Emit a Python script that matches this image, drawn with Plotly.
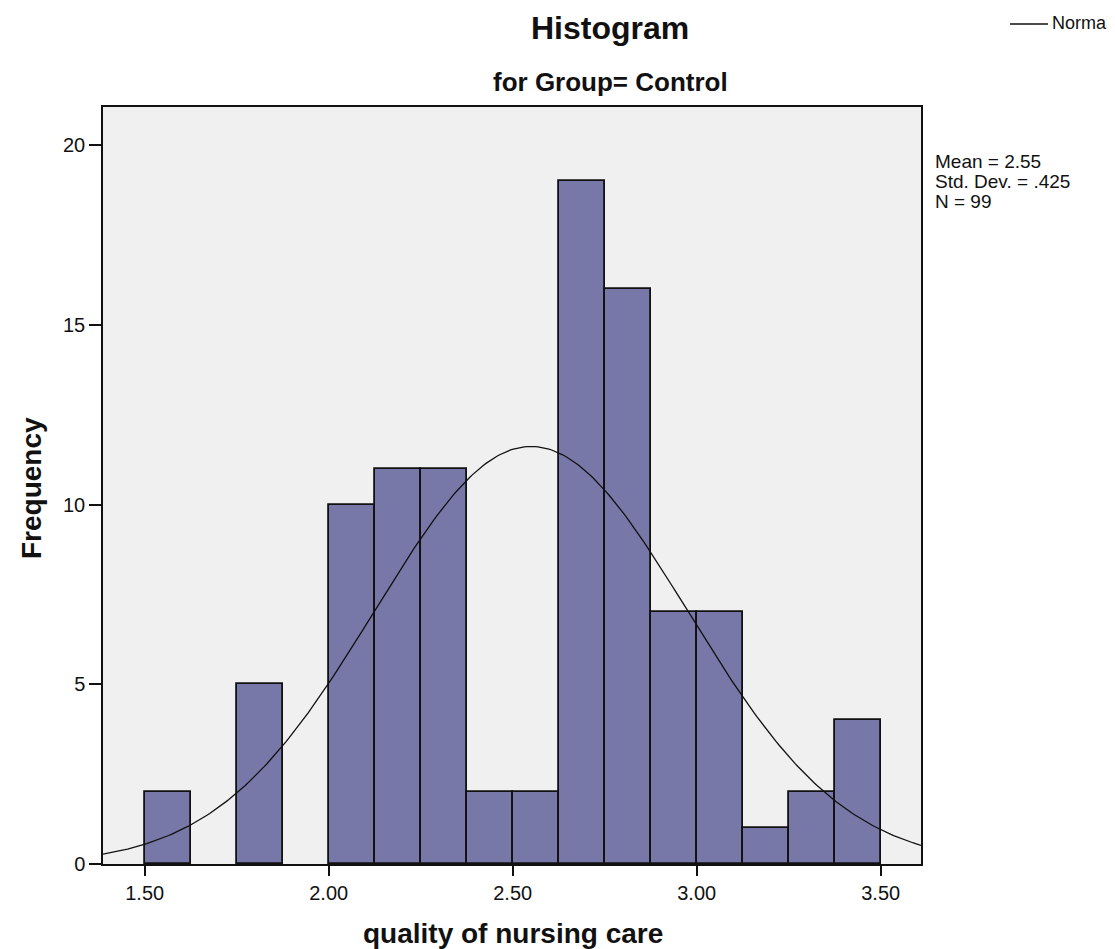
import numpy as np
import plotly.graph_objects as go

# ---- data ----
bin_starts = [1.500, 1.625, 1.750, 1.875, 2.000, 2.125, 2.250, 2.375,
              2.500, 2.625, 2.750, 2.875, 3.000, 3.125, 3.250, 3.375]
bin_width = 0.125
counts = [2, 0, 5, 0, 10, 11, 11, 2, 2, 19, 16, 7, 7, 1, 2, 4]
mean_val = 2.55
std_val = 0.425
n_val = 99
x_ticks = [1.5, 2.0, 2.5, 3.0, 3.5]
x_tick_labels = ["1.50", "2.00", "2.50", "3.00", "3.50"]
y_ticks = [0, 5, 10, 15, 20]
stats_lines = ["Mean = 2.55", "Std. Dev. = .425", "N = 99"]

x_range = [1.3867, 3.6095]
y_range = [0, 21.057]

centers = [s + bin_width / 2 for s in bin_starts]
line_widths = [1.8 if c > 0 else 0 for c in counts]

# fitted normal curve (scaled to counts)
xs = np.linspace(x_range[0], x_range[1], 300)
ys = n_val * bin_width / (std_val * np.sqrt(2 * np.pi)) * np.exp(-0.5 * ((xs - mean_val) / std_val) ** 2)

# plot area in pixels
L, R, T, B = 95, 913, 99, 856
W, H = R - L, B - T


def px(x):
    return (x - L) / W


def py(y):
    return (B - y) / H


fig = go.Figure()
fig.add_trace(go.Bar(
    x=centers, y=counts, width=bin_width,
    marker=dict(color="#7878a8", line=dict(color="#111111", width=line_widths)),
    showlegend=False, hoverinfo="x+y",
))
fig.add_trace(go.Scatter(
    x=xs, y=ys, mode="lines", name="Normal",
    line=dict(color="#111111", width=1.3), showlegend=False,
))

font_fam = "Liberation Sans, Arial, sans-serif"

annotations = [
    dict(text="<b>Histogram</b>", x=px(602), y=py(20), font=dict(size=32)),
    dict(text="<b>for Group= Control</b>", x=px(602), y=py(74), font=dict(size=26)),
    dict(text="<b>quality of nursing care</b>", x=px(505), y=py(925), font=dict(size=28)),
    dict(text="<b>Frequency</b>", x=px(24), y=py(480), font=dict(size=28), textangle=-90),
    dict(text="Normal", x=px(1043), y=py(15), xanchor="left", font=dict(size=18)),
]
for i, s in enumerate(stats_lines):
    annotations.append(dict(text=s, x=px(926), y=py(153 + 20 * i), xanchor="left", font=dict(size=19)))

for a in annotations:
    a.setdefault("xanchor", "center")
    a.update(xref="paper", yref="paper", yanchor="middle", showarrow=False, borderpad=0)

fig.update_layout(
    width=1115, height=949,
    margin=dict(l=L, r=1115 - R, t=T, b=949 - B),
    paper_bgcolor="white",
    plot_bgcolor="#f0f0f0",
    font=dict(family=font_fam, color="#111111", size=20),
    bargap=0,
    showlegend=False,
    xaxis=dict(
        range=x_range, tickvals=x_ticks, ticktext=x_tick_labels,
        showline=True, linecolor="#111111", linewidth=1.5, mirror=True,
        ticks="outside", ticklen=10, tickwidth=1.5, tickcolor="#111111",
        showgrid=False, zeroline=False, automargin=False,
        tickfont=dict(size=20),
    ),
    yaxis=dict(
        range=y_range, tickvals=y_ticks,
        showline=True, linecolor="#111111", linewidth=1.5, mirror=True,
        ticks="outside", ticklen=12, tickwidth=1.5, tickcolor="#111111",
        showgrid=False, zeroline=False, automargin=False,
        tickfont=dict(size=20),
    ),
    annotations=annotations,
    shapes=[dict(type="line", xref="paper", yref="paper",
                 x0=px(1002), x1=px(1040), y0=py(16), y1=py(16),
                 line=dict(color="#111111", width=1.3))],
)

fig.write_html("out.html")
